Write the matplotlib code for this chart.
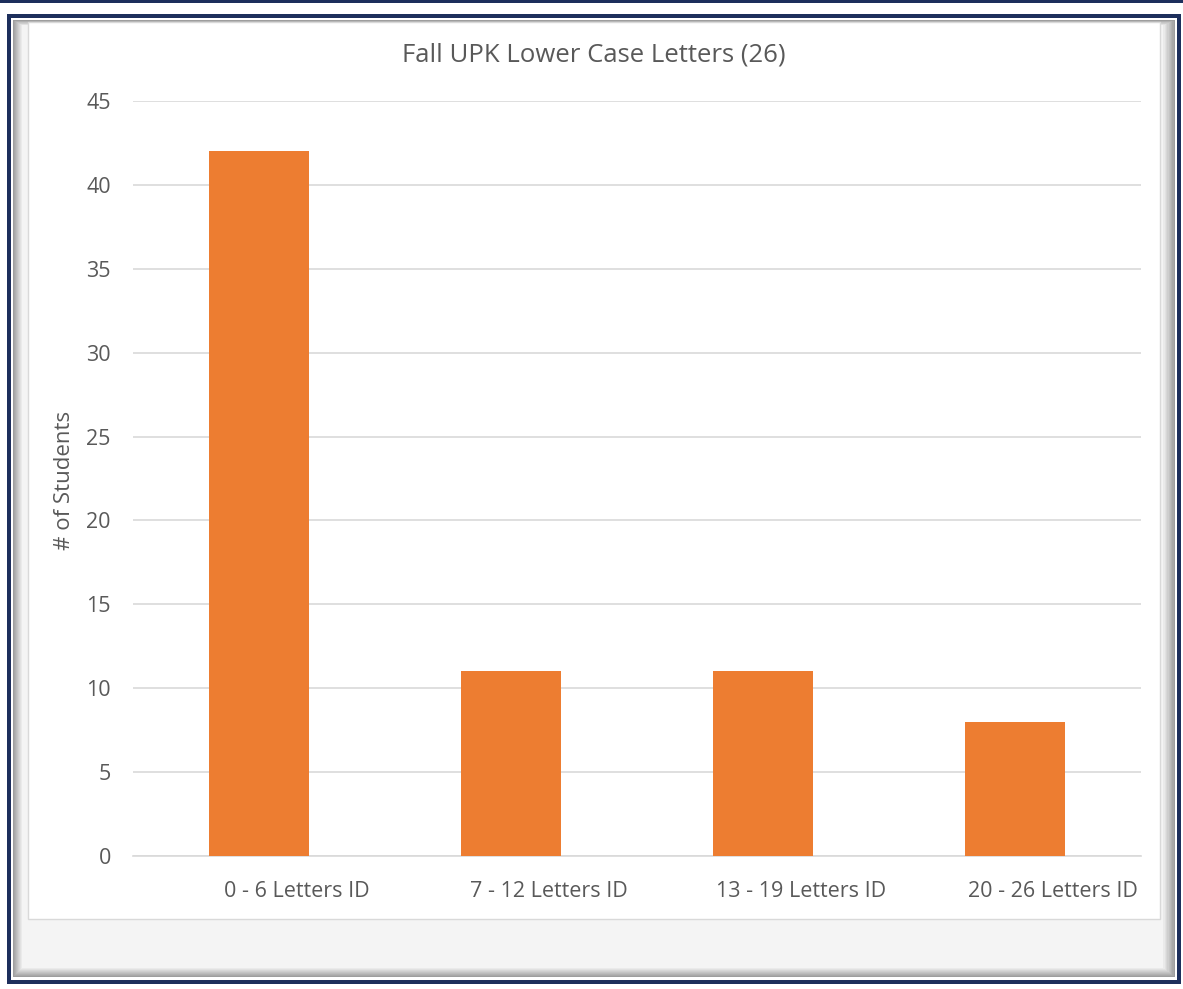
import matplotlib
matplotlib.use("Agg")
import matplotlib.pyplot as plt
from matplotlib.patches import Rectangle
from matplotlib.transforms import ScaledTranslation

categories = ["0 - 6 Letters ID", "7 - 12 Letters ID", "13 - 19 Letters ID", "20 - 26 Letters ID"]
students = [42, 11, 11, 8]
yticks = [0, 5, 10, 15, 20, 25, 30, 35, 40, 45]
title = "Fall UPK Lower Case Letters (26)"
ylabel = "# of Students"

W, H = 1183, 989
DPI = 100
plt.rcParams['font.family'] = ['Open Sans', 'DejaVu Sans']
fig = plt.figure(figsize=(W / DPI, H / DPI), dpi=DPI)
fig.patch.set_facecolor('white')

def rect(x0, y0, x1, y1, **kw):
    # pixel coords (top-left origin)
    r = Rectangle((x0 / W, 1 - y1 / H), (x1 - x0) / W, (y1 - y0) / H,
                  transform=fig.transFigure, **kw)
    fig.add_artist(r)
    return r

NAVY = '#1d2f5c'
# top navy band
rect(0, 0, W, 3, facecolor=NAVY, edgecolor='none', zorder=0)
# navy frame
rect(7, 14, 1181, 984, facecolor=NAVY, edgecolor='none', zorder=0)
rect(11, 18, 1177, 980, facecolor='white', edgecolor='none', zorder=0)
# shadow gradient (nested rectangles)
steps = 10
for i in range(steps):
    t = i / (steps - 1)
    g = 0.62 + (0.955 - 0.62) * t
    rect(13 + i, 20 + i * 0.6, 1175 - i * 1.3, 977 - i, facecolor=(g, g, g), edgecolor='none', zorder=0)
# chart area
rect(28, 22, 1160, 919, facecolor='white', edgecolor='#d9d9d9', linewidth=1, zorder=0)

ax = fig.add_axes([133 / W, 1 - 856 / H, (1141 - 133) / W, (856 - 101) / H])
ax.set_facecolor('none')
x = list(range(len(categories)))
ax.bar(x, students, width=0.4, color='#ed7d31', zorder=3)
ax.set_xlim(-0.5, len(categories) - 0.5)
ax.set_ylim(0, 45)
ax.set_yticks(yticks)
ax.set_yticklabels([str(v) for v in yticks])
ax.set_xticks(x)
ax.set_xticklabels(categories)
ax.yaxis.grid(True, color='#d9d9d9', linewidth=1.2, zorder=0)
ax.set_axisbelow(True)
for s in ['top', 'right', 'left']:
    ax.spines[s].set_visible(False)
ax.spines['bottom'].set_color('#d9d9d9')
ax.spines['bottom'].set_linewidth(1.2)
ax.tick_params(axis='both', length=0, colors='#595959', labelsize=15.5)
ax.tick_params(axis='y', pad=16)
ax.tick_params(axis='x', pad=18)
off = ScaledTranslation(38 / DPI, 0, fig.dpi_scale_trans)
for lab in ax.get_xticklabels():
    lab.set_transform(lab.get_transform() + off)

fig.text(594 / W, 1 - 55 / H, title, ha='center', va='center', fontsize=18.5, color='#595959')
fig.text(65 / W, 1 - 480 / H, ylabel, ha='center', va='center', rotation=90, fontsize=16, color='#595959')

fig.savefig('out.png', dpi=DPI)
